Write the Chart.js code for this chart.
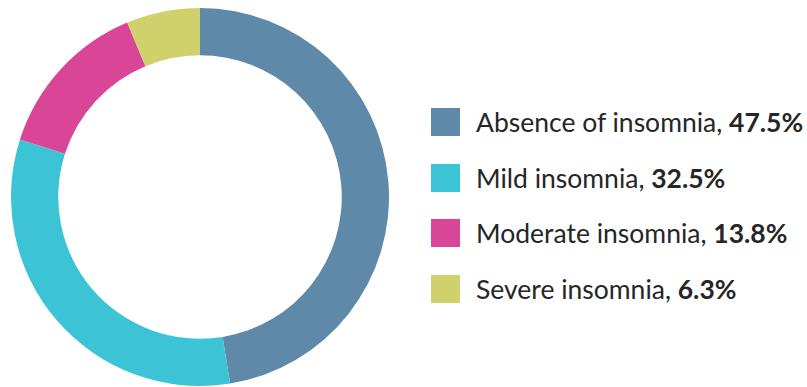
<!DOCTYPE html>
<html>
<head>
<meta charset="utf-8">
<script src="https://cdn.jsdelivr.net/npm/chart.js@4/dist/chart.umd.min.js"></script>
<style>
  html, body { margin: 0; padding: 0; background: #fff; }
  body { width: 807px; height: 387px; position: relative; overflow: hidden; font-family: Lato, "Open Sans", sans-serif; }
  #donut { position: absolute; left: 11px; top: 8px; }
  #legend { position: absolute; left: 431px; top: 108px; margin: 0; padding: 0; list-style: none; }
  #legend li { position: relative; height: 55.5px; }
  #legend .sw { position: absolute; left: 0; top: 0; width: 29px; height: 28px; }
  #legend .txt { position: absolute; left: 45px; top: -3px; font-size: 26.5px; line-height: 34px; color: #262626; white-space: nowrap; }
  #legend b { font-weight: 700; }
</style>
</head>
<body>
<canvas id="donut" width="378" height="378"></canvas>
<ul id="legend"></ul>
<script>
// Insomnia severity shares (%)
const categories = ["Absence of insomnia", "Mild insomnia", "Moderate insomnia", "Severe insomnia"];
const shares = [47.5, 32.5, 13.8, 6.3];
const colors = ["#5E89A8", "#3CC3D5", "#D94697", "#CFD26C"];

const chart = new Chart(document.getElementById("donut"), {
  type: "doughnut",
  data: {
    labels: categories,
    datasets: [{
      data: shares,
      backgroundColor: colors,
      borderWidth: 0,
      hoverOffset: 0
    }]
  },
  options: {
    responsive: false,
    animation: false,
    cutout: "75%",
    layout: { padding: 0 },
    plugins: {
      legend: { display: false },
      tooltip: { enabled: false }
    }
  }
});

// Legend built from the chart's own labels and values
const list = document.getElementById("legend");
chart.data.labels.forEach((label, i) => {
  const li = document.createElement("li");
  const sw = document.createElement("span");
  sw.className = "sw";
  sw.style.background = chart.data.datasets[0].backgroundColor[i];
  const txt = document.createElement("span");
  txt.className = "txt";
  txt.append(label + ", ");
  const b = document.createElement("b");
  b.textContent = chart.data.datasets[0].data[i].toFixed(1) + "%";
  txt.append(b);
  li.append(sw, txt);
  list.append(li);
});
</script>
</body>
</html>
